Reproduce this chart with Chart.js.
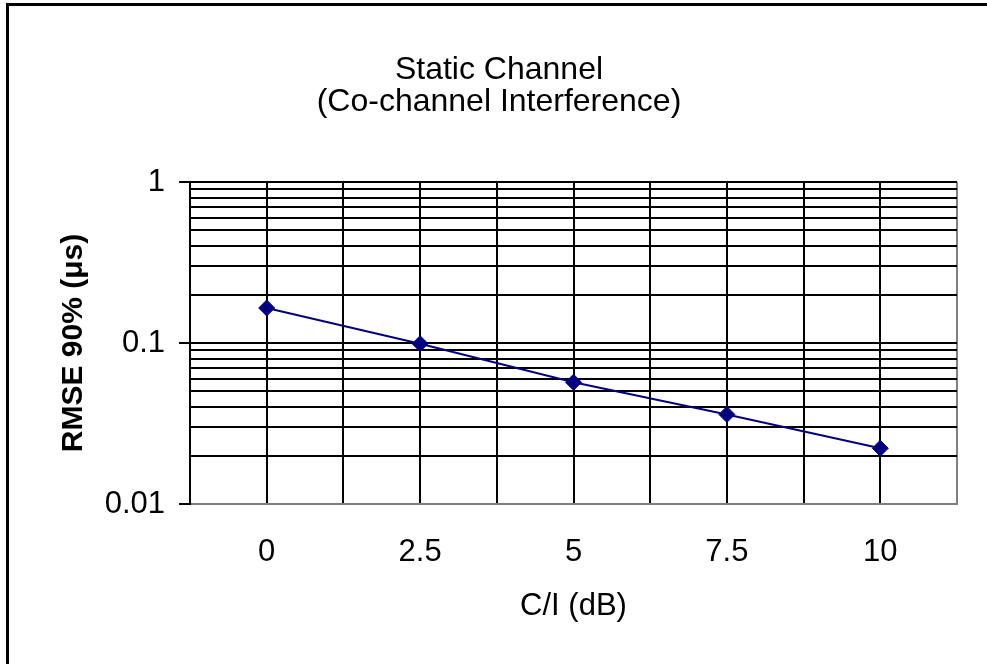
<!DOCTYPE html>
<html>
<head>
<meta charset="utf-8">
<script src="https://cdn.jsdelivr.net/npm/chart.js@4/dist/chart.umd.min.js"></script>
<style>
  html, body { margin: 0; padding: 0; background: #fff; overflow: hidden; }
  #wrap { position: relative; width: 987px; height: 664px; }
  #frame { position: absolute; left: 6px; top: 3px; width: 1100px; height: 800px; border: 3px solid #000; pointer-events: none; }
  canvas { position: absolute; left: 0; top: 0; }
</style>
</head>
<body>
<div id="wrap">
  <canvas id="c" width="987" height="664"></canvas>
  <div id="frame"></div>
</div>
<script>
// ---- data ----
const categories = [0, 2.5, 5, 7.5, 10];                 // C/I (dB)
const rmse90 = [0.165, 0.099, 0.057, 0.036, 0.0222];      // RMSE 90% (µs)
const xTickLabels = ['0', '2.5', '5', '7.5', '10'];
const xGridTicks = [-1.25, 0, 1.25, 2.5, 3.75, 5, 6.25, 7.5, 8.75, 10, 11.25];
const yGridTicks = [0.01, 0.02, 0.03, 0.04, 0.05, 0.06, 0.07, 0.08, 0.09,
                    0.1, 0.2, 0.3, 0.4, 0.5, 0.6, 0.7, 0.8, 0.9, 1];
const yTickLabels = ['0.01', '0.1', '1'];
const titleLines = ['Static Channel', '(Co-channel Interference)'];

const FONT = "'Liberation Sans', Arial, Helvetica, sans-serif";
const near = (a, b) => Math.abs(a - b) < 1e-9;

new Chart(document.getElementById('c'), {
  type: 'line',
  data: {
    datasets: [{
      data: categories.map((x, i) => ({ x: x, y: rmse90[i] })),
      borderColor: '#000080',
      backgroundColor: '#000080',
      borderWidth: 2,
      pointStyle: 'rectRot',
      pointRadius: 8,
      pointBorderWidth: 1,
      pointBorderColor: '#000080',
      pointBackgroundColor: '#000080',
      tension: 0,
      fill: false
    }]
  },
  options: {
    responsive: false,
    animation: false,
    events: [],
    layout: { padding: { left: 40, right: 29, top: 0, bottom: 0 } },
    plugins: {
      legend: { display: false },
      tooltip: { enabled: false },
      title: {
        display: true,
        text: titleLines,
        color: '#000',
        font: { family: FONT, size: 32, weight: 'normal', lineHeight: 1.0 },
        padding: { top: 54, bottom: 64 }
      }
    },
    scales: {
      x: {
        type: 'linear',
        min: xGridTicks[0],
        max: xGridTicks[xGridTicks.length - 1],
        afterBuildTicks: s => { s.ticks = xGridTicks.map(v => ({ value: v })); },
        afterFit: s => { s.height = 160; },
        ticks: {
          autoSkip: false,
          maxRotation: 0,
          padding: 30,
          color: '#000',
          font: { family: FONT, size: 31 },
          callback: v => {
            const i = categories.findIndex(c => near(c, v));
            return i >= 0 ? xTickLabels[i] : '';
          }
        },
        grid: {
          drawTicks: false,
          lineWidth: 2,
          color: c => (c.tick && near(c.tick.value, xGridTicks[xGridTicks.length - 1])) ? '#808080' : '#000'
        },
        border: { display: true, color: '#808080', width: 2 },
        title: {
          display: true,
          text: 'C/I (dB)',
          color: '#000',
          font: { family: FONT, size: 31 },
          padding: { top: 0, bottom: 39 }
        }
      },
      y: {
        type: 'logarithmic',
        min: 0.01,
        max: 1,
        afterBuildTicks: s => { s.ticks = yGridTicks.map(v => ({ value: v, major: yTickLabels.some(l => near(parseFloat(l), v)) })); },
        afterFit: s => { s.width = 150; },
        ticks: {
          autoSkip: false,
          padding: 14,
          color: '#000',
          font: { family: FONT, size: 31 },
          callback: v => {
            const l = yTickLabels.find(t => near(parseFloat(t), v));
            return l ? l : '';
          }
        },
        grid: {
          drawTicks: true,
          tickLength: 11,
          tickWidth: 2,
          lineWidth: 2,
          color: c => (c.tick && near(c.tick.value, 0.01)) ? '#808080' : '#000',
          tickColor: c => (c.tick && yTickLabels.some(l => near(parseFloat(l), c.tick.value))) ? '#000' : 'rgba(0,0,0,0)'
        },
        border: { display: true, color: '#000', width: 2 },
        title: {
          display: true,
          text: 'RMSE 90% (\u03bcs)',
          color: '#000',
          font: { family: FONT, size: 30, weight: 'bold' },
          padding: { top: 16, bottom: 0 }
        }
      }
    }
  }
});
</script>
</body>
</html>
